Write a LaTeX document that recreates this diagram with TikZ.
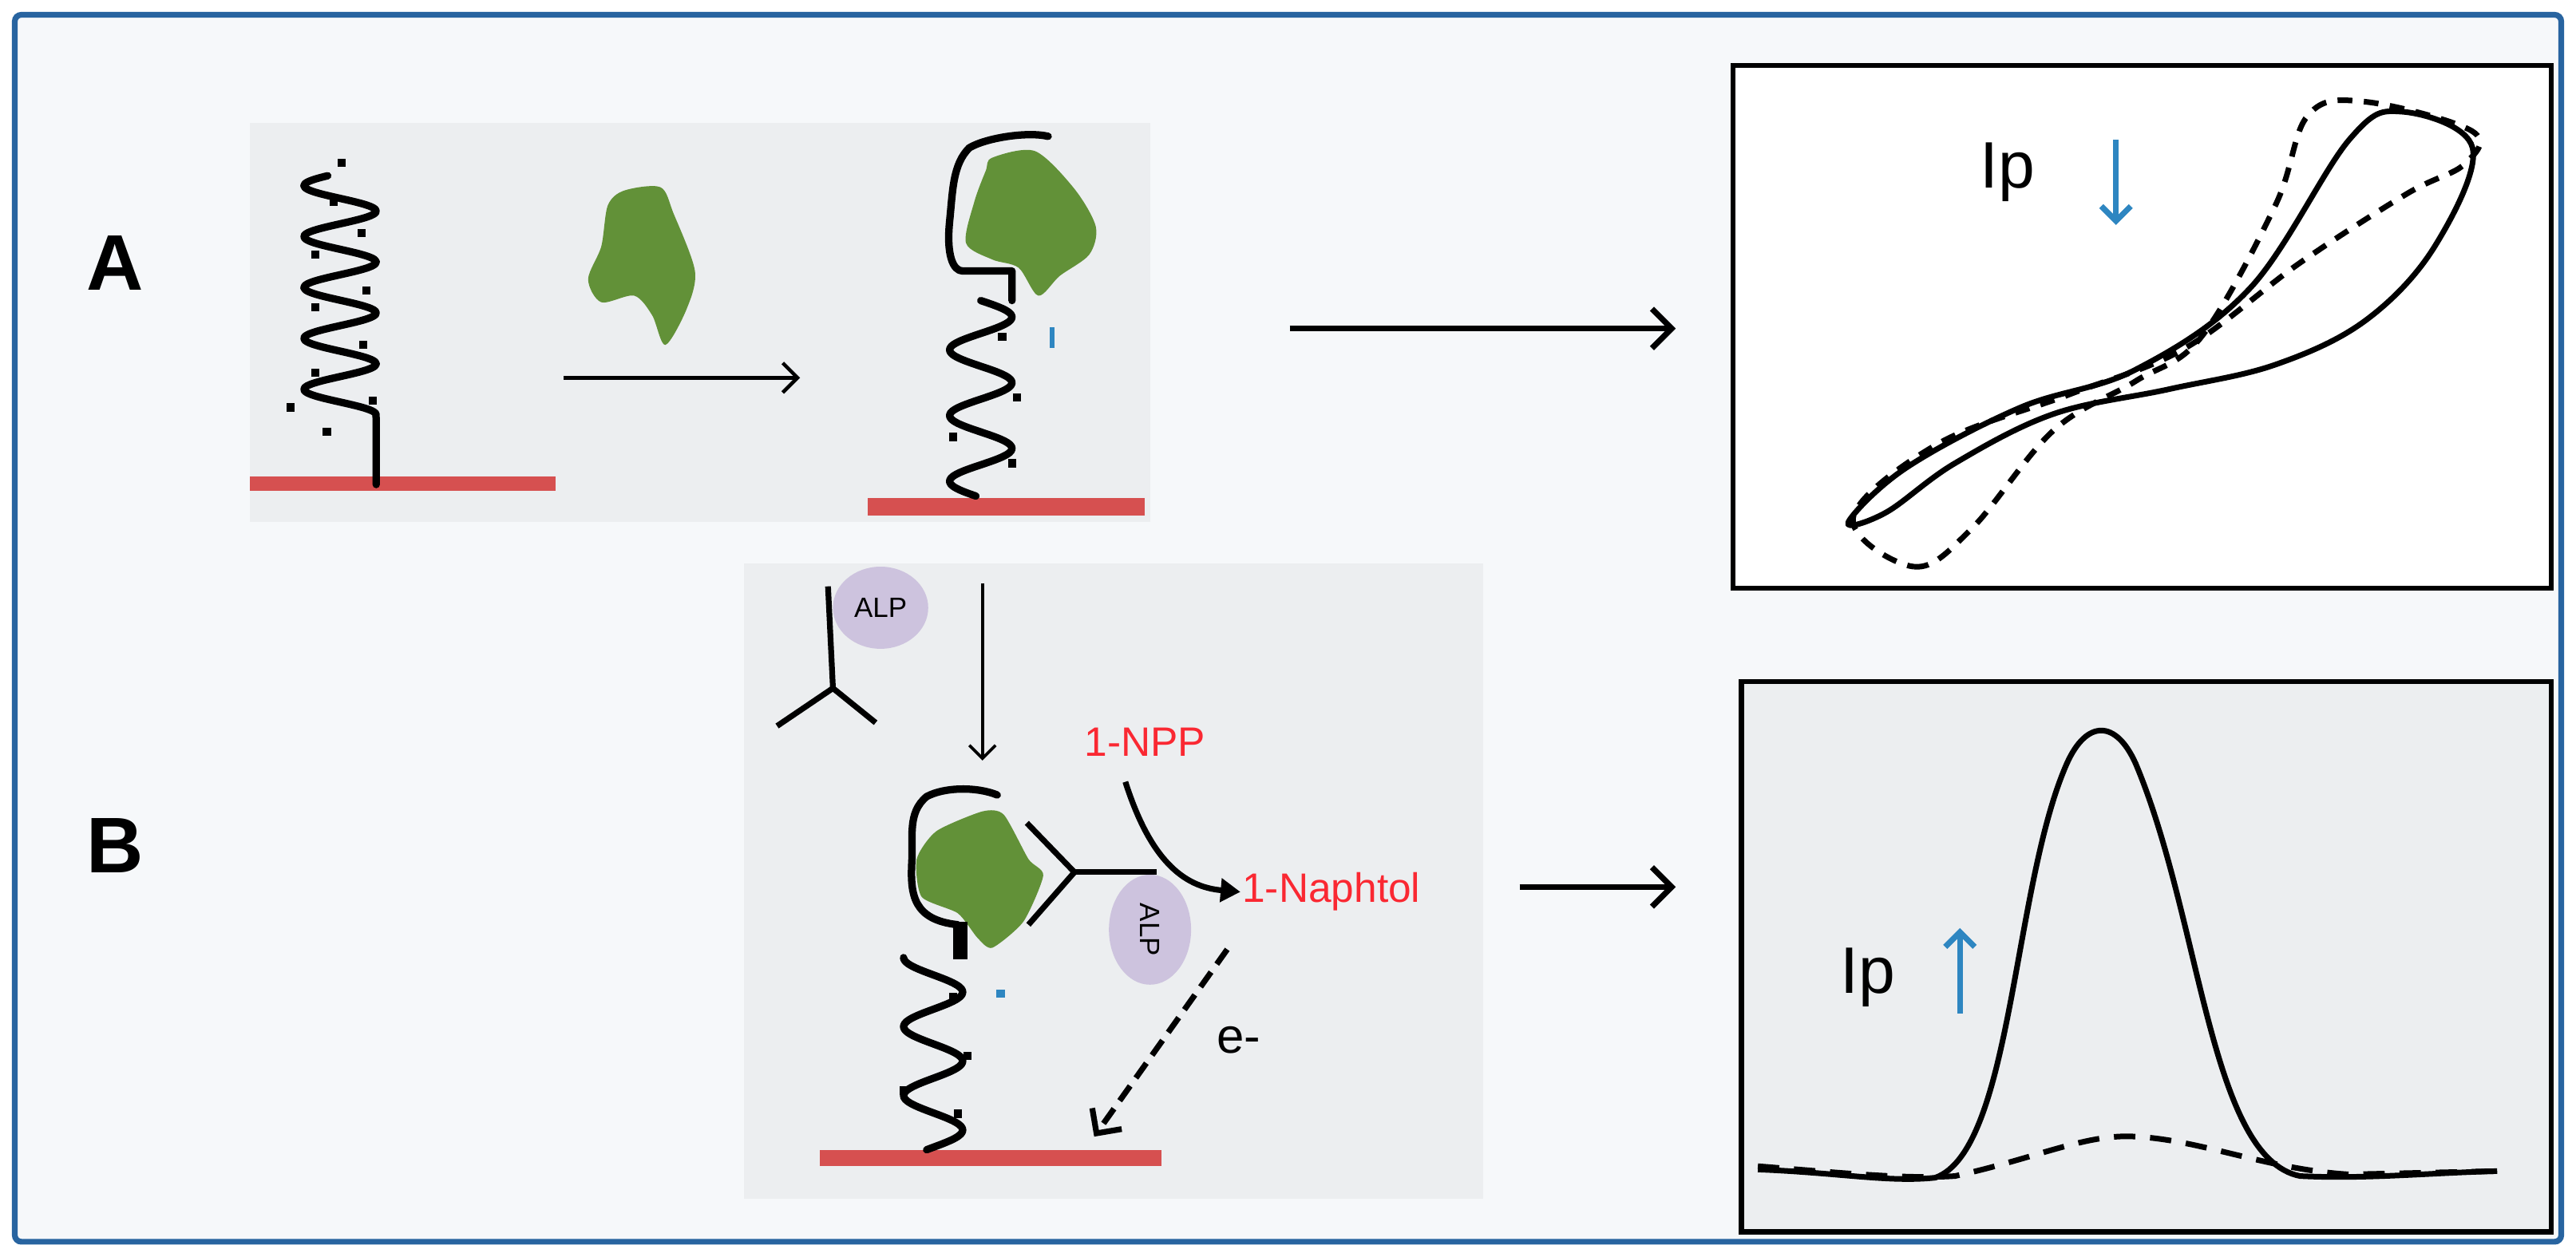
\documentclass[tikz,border=0pt]{standalone}
\usepackage{fontspec}
\setmainfont{Liberation Sans}
\usetikzlibrary{arrows.meta,shapes.geometric}
\definecolor{frame}{RGB}{40,100,160}
\definecolor{panel}{RGB}{236,238,240}
\definecolor{elec}{RGB}{214,80,80}
\definecolor{prot}{RGB}{98,145,56}
\definecolor{alp}{RGB}{205,195,222}
\definecolor{ipblue}{RGB}{46,134,193}
\definecolor{nred}{RGB}{250,40,50}
\begin{document}
\begin{tikzpicture}[x=1pt,y=-1pt,
  dna/.style={line width=4.5pt,line join=round,line cap=round},
  elect/.style={fill=elec,draw=none},
  protein/.style={fill=prot,draw=none},
  dot/.style={fill=black,minimum size=5pt,inner sep=0pt,rectangle},
  curve/.style={line width=3.4pt,line join=round},
  lbl/.style={font=\fontsize{48}{50}\selectfont\bfseries}]
\useasboundingbox (0,0) rectangle (1568,765);
\fill[white] (0,0) rectangle (1568,765);
\draw[frame,line width=3.5pt,fill={rgb,255:red,246;green,248;blue,250},rounded corners=4pt] (9,9) rectangle (1559,756);
\node[lbl] (A) at (70,160) {A};
\node[lbl] (B) at (70,515) {B};
% panel A
\fill[panel] (152,75) rectangle (700,318);
\fill[elect] (152,290) rectangle (338,299);
\draw[dna] plot[domain=107:252,samples=120,smooth] ({207+22*sin((\x-107)*11.613+200)},\x) -- (229,258) -- (229,295);
\foreach \p in {(208,99),(203,123),(220,142),(192,155),(223,177),(192,187),(221,210),(192,227),(177,248),(227,244),(199,263)}
  \node[dot] at \p {};
\fill[protein] plot[smooth cycle,tension=0.5] coordinates {(370,125) (380,116) (402,114) (410,130) (423,165) (418,188) (405,210) (397,192) (386,180) (366,184) (358,170) (366,150)};
\coordinate (a1s) at (343,230); \coordinate (a1e) at (487,230);
\draw[line width=2.2pt,-{Straight Barb[length=9pt,width=18pt]}] (a1s) -- (a1e);
\fill[elect] (528,303) rectangle (697,314);
\fill[protein] plot[smooth cycle,tension=0.5] coordinates {(604,96) (630,92) (654,115) (667,138) (663,155) (645,168) (632,180) (620,163) (604,158) (588,148) (593,123) (600,104)};
\draw[dna] (638,83) .. controls (625,80) and (600,84) .. (590,90) .. controls (580,100) and (580,115) .. (578,135) .. controls (576,155) and (580,165) .. (586,165) -- (616,165) -- (616,183)
  plot[domain=183:302,samples=100,smooth] ({597+19*sin((\x-183)*9)},\x);
\foreach \p in {(610,205),(619,242),(580,266),(616,282)} \node[dot] at \p {};
\fill[ipblue] (639,199) rectangle (642,212);
% big arrow A
\coordinate (bA1) at (785,200); \coordinate (bA2) at (1020,200);
\draw[line width=3.5pt,-{Straight Barb[length=12pt,width=24pt]}] (bA1) -- (bA2);
% CV box
\draw[line width=3pt,fill=white] (1055,40) rectangle (1553,358);
\node[font=\fontsize{40}{42}\selectfont] (ip1) at (1222,105) {Ip};
\coordinate (u1) at (1288,85); \coordinate (u2) at (1288,137);
\draw[ipblue,line width=3.5pt,-{Straight Barb[length=9pt,width=18pt]}] (u1) -- (u2);
\draw[curve] plot[smooth cycle,tension=0.6] coordinates {(1125,318) (1160,285) (1230,248) (1300,225) (1370,175) (1430,85) (1462,68) (1505,90) (1482,150) (1440,195) (1385,222) (1320,237) (1250,252) (1190,282) (1148,312)};
\draw[curve,dash pattern=on 9pt off 7pt] plot[smooth cycle,tension=0.6] coordinates {(1128,315) (1165,345) (1200,322) (1250,262) (1300,232) (1340,205) (1385,125) (1405,70) (1440,62) (1505,80) (1500,100) (1465,118) (1400,160) (1330,212) (1260,240) (1180,270)};
% DPV box
\draw[line width=3pt,fill=panel] (1060,415) rectangle (1553,750);
\node[font=\fontsize{40}{42}\selectfont] (ip2) at (1137,595) {Ip};
\coordinate (v1) at (1193,617); \coordinate (v2) at (1193,565);
\draw[ipblue,line width=3.5pt,-{Straight Barb[length=9pt,width=18pt]}] (v1) -- (v2);
\draw[curve] (1070,712) .. controls (1120,714) and (1150,720) .. (1178,717) .. controls (1225,700) and (1225,540) .. (1258,465) .. controls (1270,438) and (1288,438) .. (1300,465) .. controls (1340,560) and (1345,705) .. (1400,716) .. controls (1440,718) and (1480,714) .. (1520,713);
\draw[curve,dash pattern=on 13pt off 9pt] (1070,710) .. controls (1120,714) and (1160,718) .. (1190,716) .. controls (1240,705) and (1270,690) .. (1300,692) .. controls (1340,694) and (1380,712) .. (1430,715) -- (1520,713);
% panel B
\fill[panel] (453,343) rectangle (903,730);
\fill[elect] (499,700) rectangle (707,710);
% free antibody
\node[draw=none,fill=alp,ellipse,minimum width=58pt,minimum height=50pt,inner sep=0pt,font=\fontsize{17}{18}\selectfont] (alp1) at (536,370) {ALP};
\draw[line width=3.5pt] (504,357) -- (507,419) -- (473,442);
\draw[line width=3.5pt] (507,419) -- (533,440);
\coordinate (d1) at (598,355); \coordinate (d2) at (598,463);
\draw[line width=1.8pt,-{Straight Barb[length=8pt,width=16pt]}] (d1) -- (d2);
\node[nred,font=\fontsize{25}{27}\selectfont] (npp) at (697,452) {1-NPP};
\node[nred,font=\fontsize{25}{27}\selectfont,anchor=west,inner sep=1pt] (nap) at (755,543) {1-Naphtol};
% bound complex
\fill[protein] plot[smooth cycle,tension=0.4] coordinates {(570,506) (598,494) (611,496) (626,523) (635,533) (623,561) (604,577) (595,571) (583,556) (561,546) (558,523)};
\draw[dna] (607,484) .. controls (595,479) and (575,479) .. (564,485) .. controls (552,495) and (556,510) .. (555,525) .. controls (554,545) and (556,560) .. (583,563);
\fill (580,561) rectangle (589,584);
\draw[dna] plot[domain=583:700,samples=100,smooth] ({568+18*sin((\x-583)*8.571-90)},\x);
\foreach \p in {(580,607),(589,643),(550,664),(583,678)} \node[dot] at \p {};
\node[dot,fill=ipblue] at (609,605) {};
\node[fill=alp,ellipse,minimum width=50pt,minimum height=67pt,inner sep=0pt] (alp2) at (700,566) {};
\node[rotate=-90,font=\fontsize{17}{18}\selectfont] at (alp2.center) {ALP};
\draw[line width=3.5pt] (625,501) -- (654,531) -- (626,563);
\draw[line width=3.5pt] (654,531) -- (704,531);
\draw[line width=3.5pt,-{Triangle[length=12pt,width=14pt]}] (685,476) .. controls (700,523) and (720,540) .. (nap.west);
\coordinate (e1) at (747,578); \coordinate (e2) at (666,692);
\draw[line width=3.5pt,dash pattern=on 11pt off 6pt,-{Straight Barb[length=11pt,width=22pt]}] (e1) -- (e2);
\node[font=\fontsize{30}{32}\selectfont] (em) at (754,633) {e-};
\coordinate (bB1) at (925,540); \coordinate (bB2) at (1020,540);
\draw[line width=3.5pt,-{Straight Barb[length=12pt,width=24pt]}] (bB1) -- (bB2);
\end{tikzpicture}
\end{document}
